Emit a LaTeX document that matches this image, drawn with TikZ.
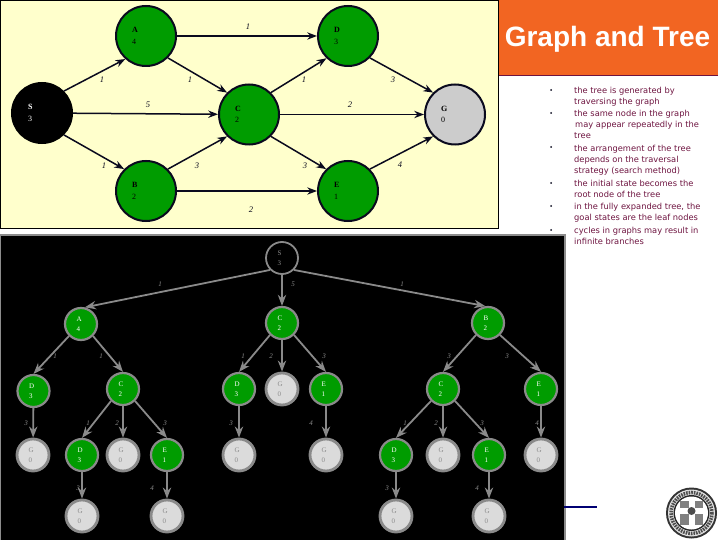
\documentclass[tikz,border=0pt]{standalone}
\usepackage{fontspec}
\setmainfont{Liberation Serif}
\setsansfont{Liberation Sans}
\newfontfamily\bodyfont{DejaVu Sans}
\usetikzlibrary{arrows.meta}
\definecolor{panel}{HTML}{FFFFCC}
\definecolor{titleor}{HTML}{F26522}
\definecolor{plum}{HTML}{6E1440}
\definecolor{leaf}{HTML}{009C00}
\definecolor{ink}{HTML}{0A0A1E}
\definecolor{ash}{HTML}{8A8A8A}

\begin{document}
\begin{tikzpicture}[x=1pt, y=-1pt, >=Stealth,
    gn/.style={circle, draw=ink, line width=2pt, fill=leaf, minimum size=60pt,
               inner sep=0pt, text width=28pt, align=left,
               font=\fontsize{8}{11.5}\selectfont},
    tn/.style={circle, draw=ash, line width=2.2pt, fill=leaf, minimum size=32pt,
               inner sep=0pt, text width=9pt, align=left, text=white,
               font=\fontsize{7}{10.5}\selectfont},
    tg/.style={tn, fill=black!14, text=black!45, line width=2.8pt},
    ga/.style={->, ink, line width=1.5pt},
    ta/.style={->, ash, line width=1.8pt},
    gl/.style={font=\fontsize{8.5}{10}\selectfont\itshape, inner sep=0pt},
    tl/.style={font=\fontsize{7}{8}\selectfont\itshape, inner sep=0pt, text=ash},
    bl/.style={anchor=north west, inner sep=0pt, text=plum, align=left,
               font=\fontsize{8.3}{10.9}\selectfont\bodyfont}]
  \useasboundingbox (0,0) rectangle (720,540);
  \fill[white] (0,0) rectangle (720,540);

  % graph
  \draw[black, fill=panel, line width=0.8pt] (0.4,0.4) rectangle (498,228);
  \fill[black!45] (0,233.5) rectangle (565.5,540);
  \fill[black] (1,235.5) rectangle (564,540);

  \node[gn] (A) at (146,36) {\textbf{A}\\4};
  \node[gn] (D) at (348,36) {\textbf{D}\\3};
  \node[gn, fill=black, draw=black, text=white] (S) at (42,113) {\textbf{S}\\3};
  \node[gn] (C) at (249,114.5) {\textbf{C}\\2};
  \node[gn, fill=black!20] (G) at (455,114.5) {\textbf{G}\\0};
  \node[gn] (B) at (146,191) {\textbf{B}\\2};
  \node[gn] (E) at (348,191) {\textbf{E}\\1};

  \draw[ga] (A) -- (D) node[gl] at (248,27) {1};
  \draw[ga] (S.45) -- (A.228) node[gl] at (102,80) {1};
  \draw[ga] (A.-45) -- (C.135) node[gl] at (190,80) {1};
  \draw[ga] (C.45) -- (D.226) node[gl] at (304,80) {1};
  \draw[ga] (D.-45) -- (G.135) node[gl] at (393,80) {3};
  \draw[ga] (S) -- (C) node[gl] at (148,105) {5};
  \draw[ga] (C) -- (G) node[gl] at (350,105) {2};
  \draw[ga] (S.-45) -- (B.135) node[gl] at (104,166) {1};
  \draw[ga] (B.45) -- (C.225) node[gl] at (197,166) {3};
  \draw[ga] (C.-45) -- (E.135) node[gl] at (305,166) {3};
  \draw[ga] (E.45) -- (G.225) node[gl] at (400,165) {4};
  \draw[ga] (B) -- (E) node[gl] at (251,210) {2};

  % tree
  \node[tn, fill=black, text=black!45, line width=1.8pt] (r) at (282,258) {S\\3};
  \node[tn] (ta) at (81,324) {A\\4};
  \node[tn] (tc) at (282,323) {C\\2};
  \node[tn] (tb) at (488,323) {B\\2};
  \node[tn] (ad) at (33.5,391) {D\\3};
  \node[tn] (ac) at (123,389) {C\\2};
  \node[tn] (cd) at (239,389) {D\\3};
  \node[tg] (cg) at (282,389) {G\\0};
  \node[tn] (ce) at (326,389) {E\\1};
  \node[tn] (bc) at (443,389) {C\\2};
  \node[tn] (be) at (541,389) {E\\1};
  \node[tg] (adg) at (33,455) {G\\0};
  \node[tn] (acd) at (82,455) {D\\3};
  \node[tg] (acg) at (123,455) {G\\0};
  \node[tn] (ace) at (167,455) {E\\1};
  \node[tg] (cdg) at (239,455) {G\\0};
  \node[tg] (ceg) at (326,455) {G\\0};
  \node[tn] (bcd) at (396,455) {D\\3};
  \node[tg] (bcg) at (443,455) {G\\0};
  \node[tn] (bce) at (489,455) {E\\1};
  \node[tg] (beg) at (541,455) {G\\0};
  \node[tg] (acdg) at (82,516) {G\\0};
  \node[tg] (aceg) at (167,516) {G\\0};
  \node[tg] (bcdg) at (396,516) {G\\0};
  \node[tg] (bceg) at (489,516) {G\\0};

  \draw[ta] (r.225) -- (ta.77) node[tl] at (160,284) {1};
  \draw[ta] (r) -- (tc) node[tl] at (293,284) {5};
  \draw[ta] (r.-45) -- (tb.99) node[tl] at (402,284) {1};
  \draw[ta] (ta.225) -- (ad.north) node[tl] at (55,356) {1};
  \draw[ta] (ta.-45) -- (ac.north) node[tl] at (101,356) {1};
  \draw[ta] (tc.225) -- (cd.north) node[tl] at (243,356) {1};
  \draw[ta] (tc) -- (cg) node[tl] at (271,356) {2};
  \draw[ta] (tc.-45) -- (ce.north) node[tl] at (324,356) {3};
  \draw[ta] (tb.225) -- (bc.north) node[tl] at (449,356) {3};
  \draw[ta] (tb.-45) -- (be.north) node[tl] at (507,356) {3};
  \draw[ta] (ad) -- (adg) node[tl] at (26,423) {3};
  \draw[ta] (ac.225) -- (acd.north) node[tl] at (88,423) {1};
  \draw[ta] (ac) -- (acg) node[tl] at (117,423) {2};
  \draw[ta] (ac.-45) -- (ace.north) node[tl] at (165,423) {3};
  \draw[ta] (cd) -- (cdg) node[tl] at (231,423) {3};
  \draw[ta] (ce) -- (ceg) node[tl] at (311,423) {4};
  \draw[ta] (bc.225) -- (bcd.north) node[tl] at (405,423) {1};
  \draw[ta] (bc) -- (bcg) node[tl] at (436,423) {2};
  \draw[ta] (bc.-45) -- (bce.north) node[tl] at (482,423) {3};
  \draw[ta] (be) -- (beg) node[tl] at (537,423) {4};
  \draw[ta] (acd) -- (acdg) node[tl] at (78,488) {3};
  \draw[ta] (ace) -- (aceg) node[tl] at (152,488) {4};
  \draw[ta] (bcd) -- (bcdg) node[tl] at (387,488) {3};
  \draw[ta] (bce) -- (bceg) node[tl] at (477,488) {4};

  % title and text
  \fill[titleor] (498.5,0) rectangle (718,76);
  \draw[plum, line width=1pt] (498.5,76) -- (718,76);
  \node[text=white, inner sep=0pt, font=\fontsize{28}{30}\selectfont\sffamily\bfseries] (title) at (607.5,39) {Graph and Tree};

  \node[bl] (t1) at (574,87) {the tree is generated by\\traversing the graph};
  \node[bl] (t2) at (574,110) {the same node in the graph\\\hspace*{1pt}may appear repeatedly in the\\tree};
  \node[bl] (t3) at (574,145) {the arrangement of the tree\\depends on the traversal\\strategy (search method)};
  \node[bl] (t4) at (574,180) {the initial state becomes the\\root node of the tree};
  \node[bl] (t5) at (574,203) {in the fully expanded tree, the\\goal states are the leaf nodes};
  \node[bl] (t6) at (574,227) {cycles in graphs may result in\\infinite branches};
  \foreach \y in {90,113,147,183,206,230}
    \fill[ink] (551,\y) circle (1);

  % rule and seal
  \draw[blue!45!black, line width=2pt] (564,507) -- (597,507);
  \fill[black!80] (691.5,513) circle (25.5);
  \fill[black!12] (691.5,513) circle (23.5);
  \draw[black!70, line width=3.5pt, dash pattern=on 1.6pt off 1pt] (691.5,513) circle (20.5);
  \fill[black!85] (691.5,513) circle (18);
  \fill[white] (691.5,513) circle (16.5);
  \fill[black!50] (680,501) rectangle (703,525);
  \fill[white] (688.5,498) rectangle (694.5,528);
  \fill[white] (677,508) rectangle (706,514);
  \fill[black!70] (691.5,511) circle (4);
\end{tikzpicture}
\end{document}
